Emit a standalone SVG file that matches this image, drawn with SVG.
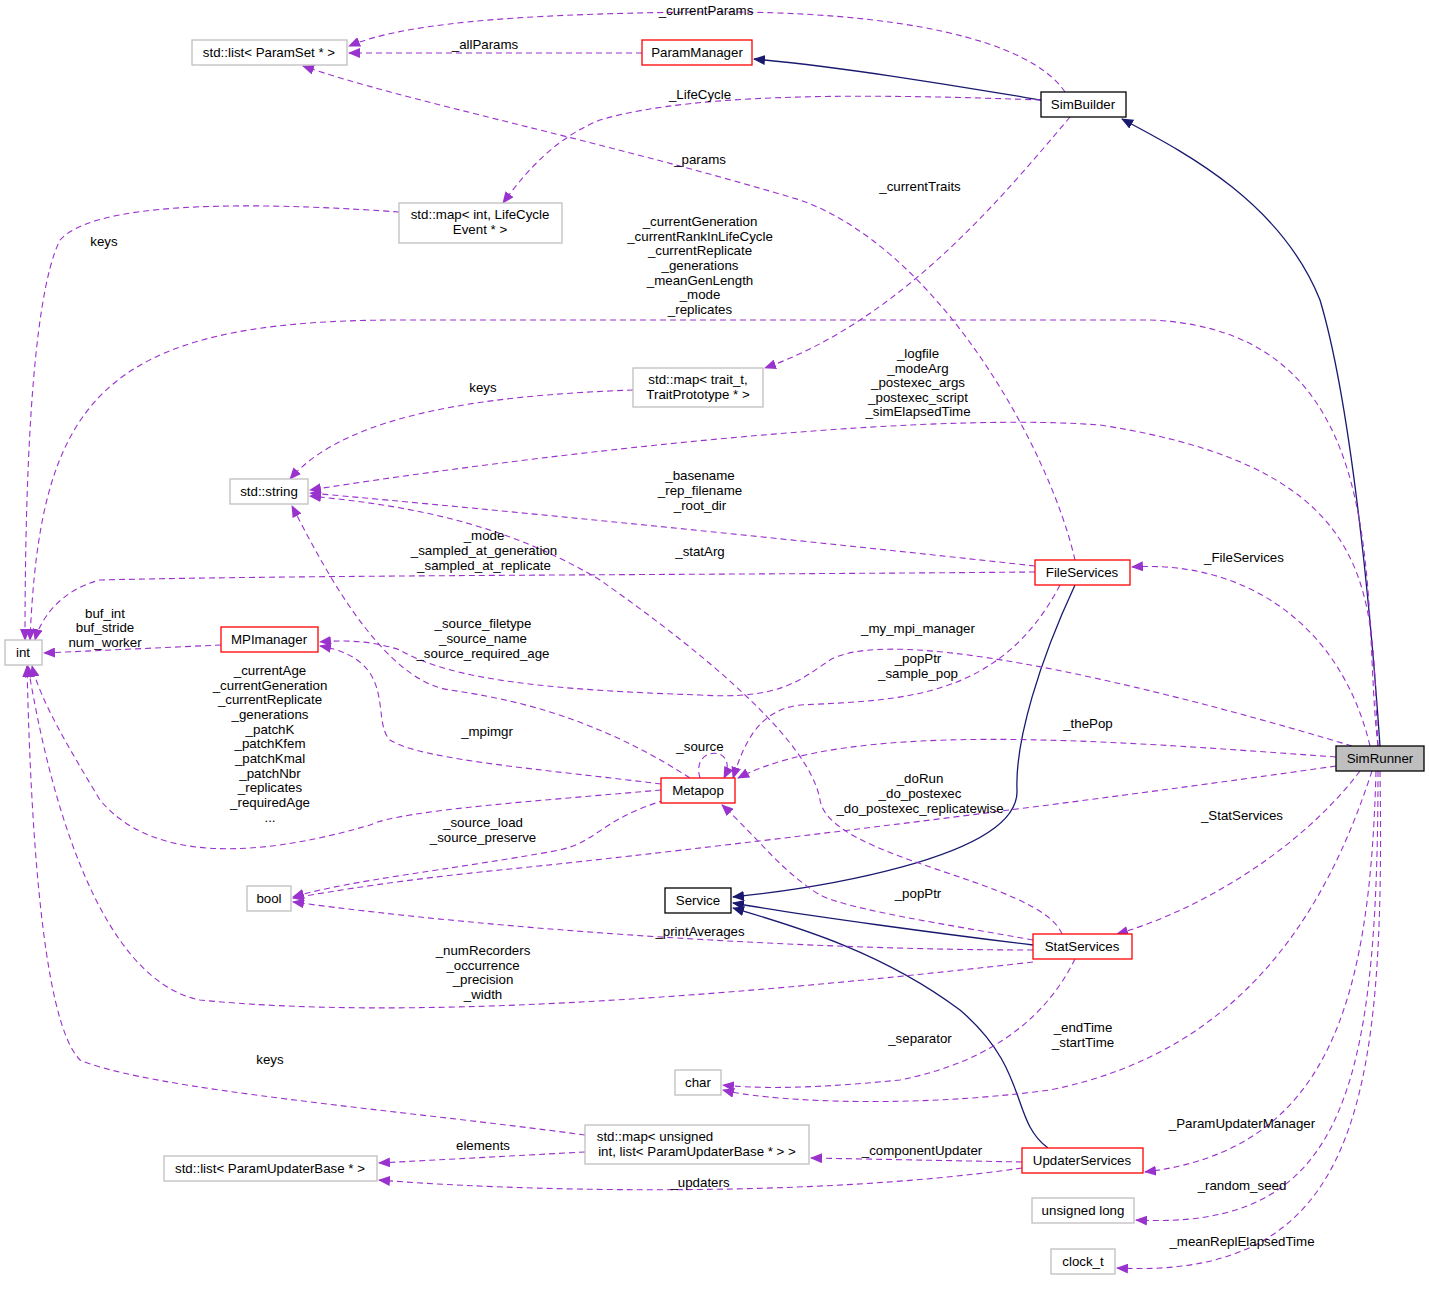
<svg xmlns="http://www.w3.org/2000/svg" width="1429" height="1291" viewBox="0 0 1429 1291">
<style>
text{font-family:"Liberation Sans",Arial,sans-serif;font-size:13.3px;fill:#000;text-anchor:middle}
.n rect{fill:#fff;stroke-width:1.3}
.g rect{stroke:#bfbfbf}.r rect{stroke:#ff0000}.b rect{stroke:#000}
.p{fill:none;stroke:#9a32cd;stroke-dasharray:6,4;stroke-width:1.1;marker-end:url(#pa)}
.s{fill:none;stroke:#191970;stroke-width:1.3;marker-end:url(#na)}
</style>
<defs>
<marker id="pa" markerWidth="12" markerHeight="10" refX="11" refY="5" orient="auto" markerUnits="userSpaceOnUse"><path d="M0,0 L12,5 L0,10 Z" fill="#9a32cd"/></marker>
<marker id="na" markerWidth="12" markerHeight="10" refX="11" refY="5" orient="auto" markerUnits="userSpaceOnUse"><path d="M0,0 L12,5 L0,10 Z" fill="#191970"/></marker>
</defs>
<rect width="1429" height="1291" fill="#fff"/>
<g id="edges">
<path class="s" d="M1041,100 C950,85 850,68 754,59"/>
<path class="s" d="M1380,746 C1370,600 1350,400 1320,300 C1280,200 1180,150 1122,119"/>
<path class="s" d="M1075,585 C1040,660 1015,740 1017,790 C1020,860 800,890 733,897"/>
<path class="s" d="M1033,945 C950,935 800,915 733,903"/>
<path class="s" d="M1048,1148 C1010,1120 1030,1070 960,1010 C880,950 790,925 733,908"/>
<path class="p" d="M1065,92 C1030,40 900,10 700,12 C500,14 400,25 349,46"/>
<path class="p" d="M642,53 L349,53"/>
<path class="p" d="M1041,100 C900,95 700,90 600,120 C550,140 520,180 503,203"/>
<path class="p" d="M1075,560 C1050,450 940,250 800,200 C600,140 400,100 303,66"/>
<path class="p" d="M1070,117 C1000,200 900,320 765,368"/>
<path class="p" d="M399,212 C300,205 100,195 60,240 C30,300 25,500 25,640"/>
<path class="p" d="M1378,746 C1360,600 1400,330 1150,320 L400,320 C100,320 40,400 30,640"/>
<path class="p" d="M633,390 C500,395 350,410 290,479"/>
<path class="p" d="M1378,746 C1370,600 1390,470 1100,425 C900,410 500,460 310,490"/>
<path class="p" d="M1035,566 C800,540 500,510 310,493"/>
<path class="p" d="M1062,934 C1040,880 830,860 820,800 C810,740 700,650 600,580 C500,520 400,505 310,496"/>
<path class="p" d="M1035,572 C700,575 300,575 100,580 C60,590 40,620 35,640"/>
<path class="p" d="M221,645 L44,653"/>
<path class="p" d="M661,790 C550,800 400,810 370,825 C250,860 150,860 100,800 C70,750 40,700 32,666"/>
<path class="p" d="M690,778 C600,720 520,700 450,690 C380,680 320,560 292,506"/>
<path class="p" d="M1352,746 C1200,700 900,620 830,660 C800,680 780,700 700,695 C550,690 450,680 400,650 C370,640 340,640 320,642"/>
<path class="p" d="M661,784 C550,770 420,760 390,740 C370,720 400,660 320,646"/>
<path class="p" d="M665,800 C600,820 600,840 560,850 C450,870 350,880 293,897"/>
<path class="p" d="M1336,766 C1100,800 700,850 500,870 C400,880 340,890 293,898"/>
<path class="p" d="M1033,950 C800,950 500,930 293,902"/>
<path class="p" d="M1336,757 C1100,740 850,720 738,778"/>
<path class="p" d="M1060,585 C1000,700 900,700 800,705 C760,710 745,740 733,778"/>
<path class="p" d="M700,778 C690,745 740,745 724,778"/>
<path class="p" d="M1033,940 C950,925 850,910 820,895 C780,870 760,840 722,805"/>
<path class="p" d="M1370,746 C1340,620 1240,560 1132,567"/>
<path class="p" d="M1360,771 C1300,850 1200,910 1117,934"/>
<path class="p" d="M1033,962 C700,1000 400,1020 200,1000 C100,980 50,800 28,666"/>
<path class="p" d="M1075,959 C1050,1010 1000,1060 900,1080 C800,1090 750,1088 723,1085"/>
<path class="p" d="M1372,771 C1330,900 1250,1050 1050,1090 C900,1110 760,1100 723,1090"/>
<path class="p" d="M585,1135 C400,1110 150,1090 80,1060 C40,1020 30,800 27,666"/>
<path class="p" d="M585,1152 L379,1163"/>
<path class="p" d="M1022,1162 L811,1158"/>
<path class="p" d="M1022,1168 C800,1200 500,1190 379,1180"/>
<path class="p" d="M1376,771 C1370,1000 1330,1150 1145,1172"/>
<path class="p" d="M1378,771 C1378,1100 1340,1230 1136,1220"/>
<path class="p" d="M1380,771 C1385,1100 1360,1280 1117,1268"/>
</g>
<g id="labels">
<text x="706" y="15">_currentParams</text>
<text x="485" y="49">_allParams</text>
<text x="700" y="99">_LifeCycle</text>
<text x="700" y="164">_params</text>
<text x="920" y="191">_currentTraits</text>
<text x="104" y="246">keys</text>
<text x="700" y="226">_currentGeneration</text><text x="700" y="241">_currentRankInLifeCycle</text><text x="700" y="255">_currentReplicate</text><text x="700" y="270">_generations</text><text x="700" y="285">_meanGenLength</text><text x="700" y="299">_mode</text><text x="700" y="314">_replicates</text>
<text x="918" y="358">_logfile</text><text x="918" y="373">_modeArg</text><text x="918" y="387">_postexec_args</text><text x="918" y="402">_postexec_script</text><text x="918" y="416">_simElapsedTime</text>
<text x="483" y="392">keys</text>
<text x="700" y="480">_basename</text><text x="700" y="495">_rep_filename</text><text x="700" y="510">_root_dir</text>
<text x="484" y="540">_mode</text><text x="484" y="555">_sampled_at_generation</text><text x="484" y="570">_sampled_at_replicate</text>
<text x="700" y="556">_statArg</text>
<text x="1244" y="562">_FileServices</text>
<text x="105" y="618">buf_int</text><text x="105" y="632">buf_stride</text><text x="105" y="647">num_worker</text>
<text x="483" y="628">_source_filetype</text><text x="483" y="643">_source_name</text><text x="483" y="658">_source_required_age</text>
<text x="918" y="633">_my_mpi_manager</text>
<text x="918" y="663">_popPtr</text><text x="918" y="678">_sample_pop</text>
<text x="270" y="675">_currentAge</text><text x="270" y="690">_currentGeneration</text><text x="270" y="704">_currentReplicate</text><text x="270" y="719">_generations</text><text x="270" y="734">_patchK</text><text x="270" y="748">_patchKfem</text><text x="270" y="763">_patchKmal</text><text x="270" y="778">_patchNbr</text><text x="270" y="792">_replicates</text><text x="270" y="807">_requiredAge</text><text x="270" y="822">...</text>
<text x="1088" y="728">_thePop</text>
<text x="487" y="736">_mpimgr</text>
<text x="700" y="751">_source</text>
<text x="920" y="783">_doRun</text><text x="920" y="798">_do_postexec</text><text x="920" y="813">_do_postexec_replicatewise</text>
<text x="1242" y="820">_StatServices</text>
<text x="483" y="827">_source_load</text><text x="483" y="842">_source_preserve</text>
<text x="918" y="898">_popPtr</text>
<text x="700" y="936">_printAverages</text>
<text x="483" y="955">_numRecorders</text><text x="483" y="970">_occurrence</text><text x="483" y="984">_precision</text><text x="483" y="999">_width</text>
<text x="1083" y="1032">_endTime</text><text x="1083" y="1047">_startTime</text>
<text x="920" y="1043">_separator</text>
<text x="270" y="1064">keys</text>
<text x="1242" y="1128">_ParamUpdaterManager</text>
<text x="483" y="1150">elements</text>
<text x="922" y="1155">_componentUpdater</text>
<text x="700" y="1187">_updaters</text>
<text x="1242" y="1190">_random_seed</text>
<text x="1242" y="1246">_meanReplElapsedTime</text>
</g>
<g id="SimRunner" class="n b"><rect x="1336" y="746" width="88" height="25" style="fill:#bfbfbf"/><text x="1380" y="763">SimRunner</text></g>
<g id="SimBuilder" class="n b"><rect x="1041" y="92" width="85" height="25"/><text x="1083" y="109">SimBuilder</text></g>
<g id="ParamManager" class="n r"><rect x="642" y="40" width="110" height="25"/><text x="697" y="57">ParamManager</text></g>
<g id="listParamSet" class="n g"><rect x="192" y="40" width="155" height="25"/><text x="269" y="57">std::list&lt; ParamSet * &gt;</text></g>
<g id="mapLifeCycle" class="n g"><rect x="399" y="203" width="163" height="40"/><text x="480" y="219">std::map&lt; int, LifeCycle</text><text x="480" y="234">Event * &gt;</text></g>
<g id="mapTrait" class="n g"><rect x="633" y="368" width="130" height="39"/><text x="698" y="384">std::map&lt; trait_t,</text><text x="698" y="399">TraitPrototype * &gt;</text></g>
<g id="string" class="n g"><rect x="230" y="479" width="78" height="25"/><text x="269" y="496">std::string</text></g>
<g id="int" class="n g"><rect x="5" y="640" width="37" height="25"/><text x="23" y="657">int</text></g>
<g id="MPImanager" class="n r"><rect x="221" y="627" width="97" height="25"/><text x="269" y="644">MPImanager</text></g>
<g id="Metapop" class="n r"><rect x="661" y="778" width="74" height="25"/><text x="698" y="795">Metapop</text></g>
<g id="FileServices" class="n r"><rect x="1035" y="560" width="95" height="25"/><text x="1082" y="577">FileServices</text></g>
<g id="bool" class="n g"><rect x="247" y="886" width="44" height="25"/><text x="269" y="903">bool</text></g>
<g id="Service" class="n b"><rect x="665" y="888" width="66" height="25"/><text x="698" y="905">Service</text></g>
<g id="StatServices" class="n r"><rect x="1033" y="934" width="99" height="25"/><text x="1082" y="951">StatServices</text></g>
<g id="char" class="n g"><rect x="675" y="1070" width="46" height="25"/><text x="698" y="1087">char</text></g>
<g id="mapUnsigned" class="n g"><rect x="585" y="1125" width="224" height="39"/><text x="655" y="1141">std::map&lt; unsigned</text><text x="697" y="1156">int, list&lt; ParamUpdaterBase * &gt; &gt;</text></g>
<g id="listUpdater" class="n g"><rect x="164" y="1156" width="213" height="25"/><text x="270" y="1173">std::list&lt; ParamUpdaterBase * &gt;</text></g>
<g id="UpdaterServices" class="n r"><rect x="1022" y="1148" width="121" height="25"/><text x="1082" y="1165">UpdaterServices</text></g>
<g id="unsignedLong" class="n g"><rect x="1032" y="1198" width="102" height="25"/><text x="1083" y="1215">unsigned long</text></g>
<g id="clock_t" class="n g"><rect x="1051" y="1249" width="64" height="25"/><text x="1083" y="1266">clock_t</text></g>
</svg>
